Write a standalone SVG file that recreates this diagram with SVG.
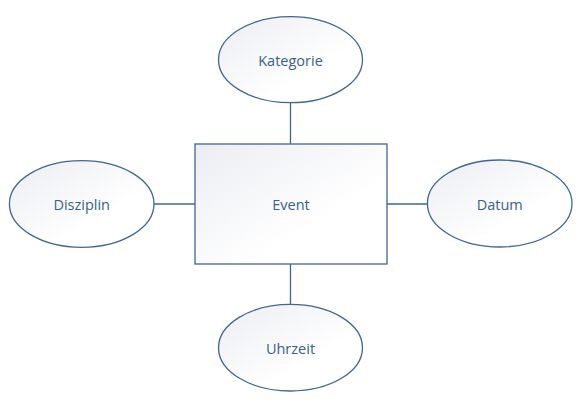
<svg xmlns="http://www.w3.org/2000/svg" width="585" height="418" viewBox="0 0 585 418">
<defs>
<linearGradient id="g" x1="0" y1="0" x2="1" y2="1">
<stop offset="0" stop-color="#EBEDF2"/>
<stop offset="0.65" stop-color="#FFFFFF"/>
</linearGradient>
<style>
.shape{fill:url(#g);stroke:#41668F;stroke-width:1.3}
.lbl{font-family:"Open Sans","Liberation Sans",sans-serif;font-size:14.5px;fill:#3A5F88;text-anchor:middle;dominant-baseline:central}
.conn line{stroke:#41668F;stroke-width:1.3}
</style>
</defs>
<rect width="585" height="418" fill="#FFFFFF"/>
<g class="conn" id="connectors">
<line x1="290.5" y1="103" x2="290.5" y2="144"/>
<line x1="290.5" y1="264" x2="290.5" y2="304.5"/>
<line x1="154" y1="204" x2="195" y2="204"/>
<line x1="387" y1="204" x2="427.5" y2="204"/>
</g>
<g id="event">
<rect class="shape" x="195" y="144" width="192" height="120"/>
<text class="lbl" x="291" y="204">Event</text>
</g>
<g id="kategorie">
<ellipse class="shape" cx="290.5" cy="59.7" rx="72" ry="43"/>
<text class="lbl" x="290.5" y="60">Kategorie</text>
</g>
<g id="disziplin">
<ellipse class="shape" cx="81.7" cy="204" rx="72.3" ry="43.3"/>
<text class="lbl" x="81.7" y="204">Disziplin</text>
</g>
<g id="datum">
<ellipse class="shape" cx="499.7" cy="203.5" rx="72.3" ry="43.5"/>
<text class="lbl" x="499.7" y="204">Datum</text>
</g>
<g id="uhrzeit">
<ellipse class="shape" cx="290.5" cy="347.7" rx="72" ry="43.3"/>
<text class="lbl" x="290.5" y="348">Uhrzeit</text>
</g>
</svg>
